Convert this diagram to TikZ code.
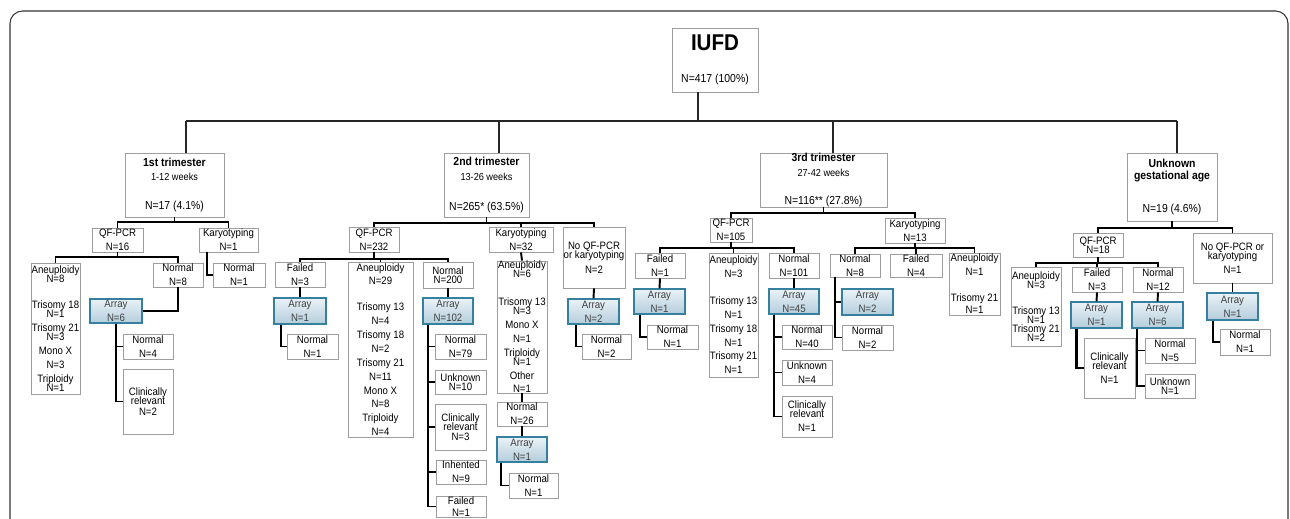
\documentclass[tikz,border=0pt]{standalone}
\usepackage{fontspec}
\setmainfont{Liberation Sans}[FakeStretch=0.9]
\usetikzlibrary{shadows}
\definecolor{boxline}{gray}{0.62}
\definecolor{arrline}{RGB}{52,128,158}
\definecolor{arrtop}{RGB}{234,242,247}
\definecolor{arrbot}{RGB}{180,205,220}
\tikzset{
  box/.style={draw=boxline, fill=white, line width=0.5pt, inner sep=0pt, align=center,
    font=\fontsize{6.1}{7.9}\selectfont,
    drop shadow={shadow xshift=0.8pt, shadow yshift=-0.8pt, opacity=0.4}},
  arraybox/.style={draw=arrline, line width=0.8pt, top color=arrtop, bottom color=arrbot, text=black!75},
  trim/.style={font=\fontsize{6.6}{8.4}\selectfont},
  trunk/.style={line width=0.75pt, black!85},
  link/.style={line width=1.1pt},
  frame/.style={line width=0.6pt, black!80, rounded corners=0.25cm}
}
% box from corner (x1,y1) to (x2,y2), in pixels
\newcommand{\flowbox}[7][]{\node[box,#1,minimum width={(#4-#2)*0.02cm},minimum height={(#5-#3)*0.02cm}] (#6) at ({(#2+#4)/2},{(#3+#5)/2}) {#7};}
\begin{document}
\begin{tikzpicture}[x=0.02cm, y=-0.02cm]
\useasboundingbox (0,0) rectangle (1290,519);
\clip (0,0) rectangle (1290,519);
\draw[frame] (10,11) rectangle (1288,560);

% top
\flowbox[font=\fontsize{6.6}{8}\selectfont]{672}{28}{758}{92}{iufd}{{\fontsize{13}{13}\selectfont\bfseries IUFD}\\[10.5pt]N=417 (100\%)}
\flowbox[trim]{125}{153}{224}{217}{t1}{\textbf{1st trimester}\\{\fontsize{5.8}{8.4}\selectfont 1-12 weeks}\\[8pt]N=17 (4.1\%)}
\flowbox[trim]{444}{153}{529}{217}{t2}{\textbf{2nd trimester}\\{\fontsize{5.8}{8.4}\selectfont 13-26 weeks}\\[9pt]N=265* (63.5\%)}
\flowbox[trim]{760}{153}{887}{207}{t3}{\textbf{3rd trimester}\\{\fontsize{5.8}{8.4}\selectfont 27-42 weeks}\\[7.5pt]N=116** (27.8\%)}
\flowbox[trim]{1127}{153}{1217}{221}{t4}{\textbf{Unknown}\\[-1.4pt]\textbf{gestational age}\\[10pt]N=19 (4.6\%)}

% 1st trimester
\flowbox{92}{228}{143}{252}{qf1}{QF-PCR\\N=16}
\flowbox{199}{228}{258}{252}{ka1}{Karyotyping\\N=1}
\flowbox{31}{263}{80}{394}{an1}{Aneuploidy\\[-2.8pt]N=8\\[6.8pt]Trisomy 18\\[-2.4pt]N=1\\Trisomy 21\\[-2.8pt]N=3\\Mono X\\N=3\\Triploidy\\[-2.8pt]N=1}
\flowbox{153}{263}{203}{287}{nn1}{Normal\\N=8}
\flowbox{213}{263}{265}{287}{nk1}{Normal\\N=1}
\flowbox[arraybox]{90}{299}{142}{323}{ar1}{Array\\N=6}
\flowbox{123}{334}{173}{359}{no1}{Normal\\N=4}
\flowbox{123}{369}{173}{434}{cr1}{Clinically\\[-2.8pt]relevant\\[-1.8pt]N=2}

% 2nd trimester
\flowbox{349}{227}{399}{252}{qf2}{QF-PCR\\N=232}
\flowbox{489}{227}{553}{252}{ka2}{Karyotyping\\N=32}
\flowbox{563}{227}{625}{288}{nq2}{No QF-PCR\\[-2.8pt]or karyotyping\\[0.6pt]N=2}
\flowbox{275}{262}{325}{287}{fa2}{Failed\\N=3}
\flowbox{348}{262}{413}{437}{an2}{Aneuploidy\\N=29\\[6.8pt]Trisomy 13\\N=4\\Trisomy 18\\N=2\\Trisomy 21\\N=11\\Mono X\\N=8\\Triploidy\\N=4}
\flowbox{423}{262}{473}{288}{nn2}{Normal\\[-2.8pt]N=200}
\flowbox[arraybox]{274}{298}{326}{324}{af2}{Array\\N=1}
\flowbox{287}{334}{338}{359}{nf2}{Normal\\N=1}
\flowbox[arraybox]{423}{298}{473}{324}{ar2}{Array\\N=102}
\flowbox{435}{334}{486}{359}{n79}{Normal\\N=79}
\flowbox{435}{370}{486}{394}{un2}{Unknown\\[-2.8pt]N=10}
\flowbox{435}{404}{486}{450}{cr2}{Clinically\\[-2.8pt]relevant\\[-2.2pt]N=3}
\flowbox{436}{460}{486}{484}{ih2}{Inhented\\N=9}
\flowbox{436}{496}{486}{517}{fl2}{Failed\\[-1pt]N=1}
\flowbox{497}{263}{547}{391}{ak2}{Aneuploidy\\[-2.8pt]N=6\\[8pt]Trisomy 13\\[-2.8pt]N=3\\Mono X\\N=1\\Triploidy\\[-2.8pt]N=1\\Other\\N=1}
\flowbox{497}{402}{547}{426}{nk2}{Normal\\N=26}
\flowbox[arraybox]{497}{437}{547}{462}{ak2b}{Array\\N=1}
\flowbox{509}{473}{558}{498}{nk2b}{Normal\\N=1}
\flowbox[arraybox]{568}{299}{619}{324}{aq2}{Array\\N=2}
\flowbox{582}{334}{631}{359}{nq2b}{Normal\\N=2}

% 3rd trimester
\flowbox{710}{218}{752}{242}{qf3}{QF-PCR\\N=105}
\flowbox{885}{218}{945}{243}{ka3}{Karyotyping\\N=13}
\flowbox{635}{253}{685}{278}{fa3}{Failed\\N=1}
\flowbox{709}{253}{758}{377}{an3}{Aneuploidy\\N=3\\[7.3pt]Trisomy 13\\N=1\\Trisomy 18\\N=1\\Trisomy 21\\N=1}
\flowbox{769}{253}{819}{278}{nn3}{Normal\\N=101}
\flowbox[arraybox]{634}{289}{685}{314}{af3}{Array\\N=1}
\flowbox{647}{325}{698}{349}{nf3}{Normal\\N=1}
\flowbox[arraybox]{769}{289}{819}{314}{ar3}{Array\\N=45}
\flowbox{782}{325}{832}{349}{n40}{Normal\\N=40}
\flowbox{782}{360}{832}{385}{un3}{Unknown\\N=4}
\flowbox{782}{396}{832}{437}{cr3}{Clinically\\[-2.8pt]relevant\\N=1}
\flowbox{830}{254}{880}{277}{nk3}{Normal\\N=8}
\flowbox{890}{254}{942}{277}{fk3}{Failed\\N=4}
\flowbox{949}{253}{1000}{315}{ak3}{Aneuploidy\\N=1\\[6.8pt]Trisomy 21\\[-1pt]N=1}
\flowbox[arraybox]{842}{289}{893}{315}{akr3}{Array\\N=2}
\flowbox{842}{325}{893}{350}{nkr3}{Normal\\N=2}

% unknown gestational age
\flowbox{1073}{233}{1123}{257}{qf4}{QF-PCR\\[-2.8pt]N=18}
\flowbox{1193}{233}{1272}{283}{nq4}{No QF-PCR or\\[-2.8pt]karyotyping\\N=1}
\flowbox{1011}{267}{1061}{346}{an4}{Aneuploidy\\[-2.8pt]N=3\\[7.3pt]Trisomy 13\\[-2.8pt]N=1\\[-2.8pt]Trisomy 21\\[-2.8pt]N=2}
\flowbox{1072}{267}{1122}{292}{fa4}{Failed\\N=3}
\flowbox{1133}{267}{1183}{292}{nn4}{Normal\\N=12}
\flowbox[arraybox]{1071}{302}{1122}{328}{af4}{Array\\N=1}
\flowbox{1084}{338}{1135}{398}{cr4}{Clinically\\[-2.8pt]relevant\\N=1}
\flowbox[arraybox]{1132}{302}{1183}{328}{ar4}{Array\\N=6}
\flowbox{1145}{338}{1195}{363}{n5}{Normal\\N=5}
\flowbox{1145}{374}{1195}{398}{un4}{Unknown\\[-2.8pt]N=1}
\flowbox[arraybox]{1207}{293}{1258}{320}{aq4}{Array\\N=1}
\flowbox{1220}{329}{1270}{355}{nq4b}{Normal\\N=1}

% trunk
\coordinate (top) at (698,121);
\coordinate (d1) at (186,121); \coordinate (d2) at (499,121);
\coordinate (d3) at (833,121); \coordinate (d4) at (1177,121);
\draw[trunk] (iufd.south -| top) -- (top);
\draw[trunk] (d1) -- (d4);
\draw[trunk] (d1) -- (d1 |- t1.north);
\draw[trunk] (d2) -- (d2 |- t2.north);
\draw[trunk] (d3) -- (d3 |- t3.north);
\draw[trunk] (d4) -- (d4 |- t4.north);

% 1st trimester links
\coordinate (b1) at (0,222); \coordinate (b11) at (0,257);
\draw[link] (t1.south) -- (t1.south |- b1);
\draw[link] (qf1.north) -- (qf1.north |- b1) -- (ka1.north |- b1) -- (ka1.north);
\draw[link] (qf1.south) -- (qf1.south |- b11);
\draw[link] (an1.north) -- (an1.north |- b11) -- (nn1.north |- b11) -- (nn1.north);
\draw[link] ([xshift=0.16cm]ka1.south west) |- (nk1.west);
\draw[link] (nn1.south) |- (ar1.east);
\draw[link] (ar1.south) |- (no1.west);
\draw[link] (ar1.south) |- (cr1.west);

% 2nd trimester links
\coordinate (b2) at (0,223); \coordinate (b21) at (0,259);
\draw[link] (t2.south) -- (t2.south |- b2);
\draw[link] (qf2.north) -- (qf2.north |- b2) -- (nq2.north |- b2) -- (nq2.north);
\draw[link] (ka2.north) -- (ka2.north |- b2);
\draw[link] (qf2.south) -- (qf2.south |- b21);
\draw[link] (fa2.north) -- (fa2.north |- b21) -- (nn2.north |- b21) -- (nn2.north);
\draw[link] (an2.north) -- (an2.north |- b21);
\draw[link] (fa2.south) -- (af2.north);
\draw[link] ([xshift=0.16cm]af2.south west) |- (nf2.west);
\draw[link] (nn2.south) -- (ar2.north);
\draw[link] ([xshift=0.12cm]ar2.south west) |- (n79.west);
\draw[link] ([xshift=0.12cm]ar2.south west) |- (un2.west);
\draw[link] ([xshift=0.12cm]ar2.south west) |- (cr2.west);
\draw[link] ([xshift=0.12cm]ar2.south west) |- (ih2.west);
\draw[link] ([xshift=0.12cm]ar2.south west) |- (fl2.west);
\draw[link] (ka2.south) -- (ak2.north);
\draw[link] (ak2.south) -- (nk2.north);
\draw[link] (nk2.south) -- (ak2b.north);
\draw[link] ([xshift=0.1cm]ak2b.south west) |- (nk2b.west);
\draw[link] (nq2.south) -- (aq2.north);
\draw[link] ([xshift=0.18cm]aq2.south west) |- (nq2b.west);

% 3rd trimester links
\coordinate (b3) at (0,213); \coordinate (b31) at (0,248);
\draw[link] (t3.south) -- (t3.south |- b3);
\draw[link] (qf3.north) -- (qf3.north |- b3) -- (ka3.north |- b3) -- (ka3.north);
\draw[link] (qf3.south) -- (qf3.south |- b31);
\draw[link] (fa3.north) -- (fa3.north |- b31) -- (nn3.north |- b31) -- (nn3.north);
\draw[link] (an3.north) -- (an3.north |- b31);
\draw[link] (ka3.south) -- (ka3.south |- b31);
\draw[link] (nk3.north) -- (nk3.north |- b31) -- (ak3.north |- b31) -- (ak3.north);
\draw[link] (fk3.north) -- (fk3.north |- b31);
\draw[link] (fa3.south) -- (af3.north);
\draw[link] ([xshift=0.14cm]af3.south west) |- (nf3.west);
\draw[link] (nn3.south) -- (ar3.north);
\draw[link] ([xshift=0.12cm]ar3.south west) |- (n40.west);
\draw[link] ([xshift=0.12cm]ar3.south west) |- (un3.west);
\draw[link] ([xshift=0.12cm]ar3.south west) |- (cr3.west);
\draw[link] ([xshift=0.1cm]nk3.south west) |- (akr3.west);
\draw[link] ([xshift=0.1cm]nk3.south west) |- (nkr3.west);

% unknown links
\coordinate (b4) at (0,228); \coordinate (b41) at (0,263);
\draw[link] (t4.south) -- (t4.south |- b4);
\draw[link] (qf4.north) -- (qf4.north |- b4) -- (nq4.north |- b4) -- (nq4.north);
\draw[link] (qf4.south) -- (qf4.south |- b41);
\draw[link] (an4.north) -- (an4.north |- b41) -- (nn4.north |- b41) -- (nn4.north);
\draw[link] (fa4.north) -- (fa4.north |- b41);
\draw[link] (fa4.south) -- (af4.north);
\draw[link, line width=1.7pt] ([xshift=0.12cm]af4.south west) |- (cr4.west);
\draw[link] (nn4.south) -- (ar4.north);
\draw[link] ([xshift=0.12cm]ar4.south west) |- (n5.west);
\draw[link] ([xshift=0.12cm]ar4.south west) |- (un4.west);
\draw[link] (nq4.south) -- (aq4.north);
\draw[link] ([xshift=0.14cm]aq4.south west) |- (nq4b.west);
\end{tikzpicture}
\end{document}
